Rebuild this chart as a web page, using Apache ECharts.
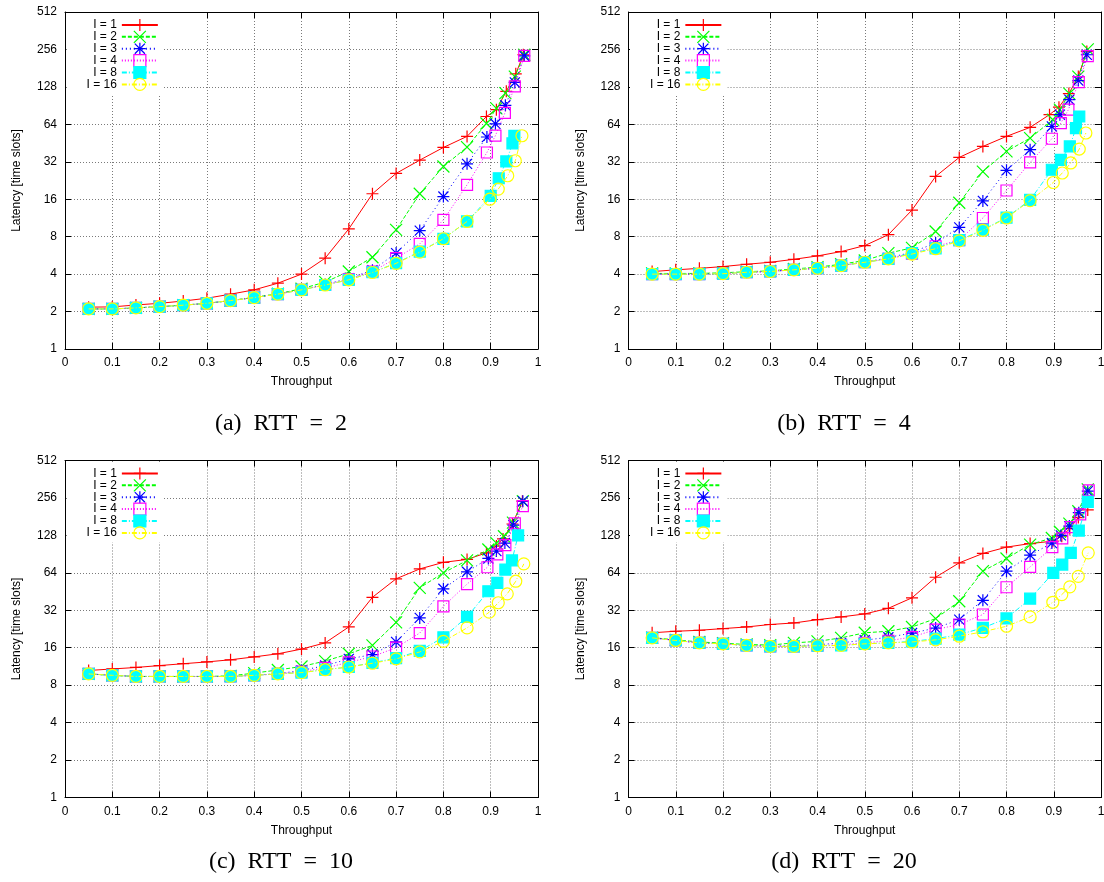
<!DOCTYPE html>
<html>
<head>
<meta charset="utf-8">
<title>Latency vs throughput</title>
<script src="https://cdn.jsdelivr.net/npm/echarts@6/dist/echarts.min.js"></script>
<style>
  html, body { margin: 0; padding: 0; background: #fff; }
  #chart { width: 1104px; height: 882px; }
</style>
</head>
<body>
<div id="chart"></div>
<script>
// throughput points shared by every curve (0.05 .. 0.85)
const xLow = [0.05, 0.1, 0.15, 0.2, 0.25, 0.3, 0.35, 0.4, 0.45, 0.5, 0.55, 0.6, 0.65, 0.7, 0.75, 0.8, 0.85];
const levels = ["I = 1", "I = 2", "I = 3", "I = 4", "I = 8", "I = 16"];
const captions = ["(a)\u2002RTT\u2002=\u20022", "(b)\u2002RTT\u2002=\u20024", "(c)\u2002RTT\u2002=\u200210", "(d)\u2002RTT\u2002=\u200220"];

// ---- RTT = 2 ----
const rtt2_i1 = [2.17, 2.18, 2.26, 2.33, 2.43, 2.56, 2.76, 2.99, 3.38, 4.0, 5.37, 9.24, 17.7, 25.8, 33, 41.7, 51.2, 74, 84, 118, 163, 232];
const rtt2_i2 = [2.1, 2.1, 2.14, 2.19, 2.25, 2.33, 2.45, 2.6, 2.78, 3.05, 3.45, 4.2, 5.47, 9.07, 17.7, 29.3, 42, 65, 86, 114, 155, 232];
const rtt2_i3 = [2.1, 2.1, 2.14, 2.19, 2.25, 2.33, 2.45, 2.59, 2.77, 3.0, 3.3, 3.7, 4.3, 5.9, 8.95, 16.8, 30.8, 50.6, 64.6, 91, 139, 227];
const rtt2_i4 = [2.1, 2.1, 2.14, 2.19, 2.25, 2.33, 2.45, 2.59, 2.76, 2.99, 3.27, 3.65, 4.2, 5.37, 7.0, 10.9, 20.9, 38, 52, 79, 129, 227];
const rtt2_i8 = [2.1, 2.1, 2.14, 2.19, 2.25, 2.33, 2.45, 2.59, 2.76, 2.99, 3.27, 3.6, 4.14, 4.9, 6.07, 7.68, 10.6, 17, 23.6, 32.2, 45, 51.6];
const rtt2_i16 = [2.1, 2.1, 2.14, 2.19, 2.25, 2.33, 2.45, 2.59, 2.76, 2.99, 3.27, 3.6, 4.12, 4.88, 6.0, 7.7, 10.6, 16, 19.3, 24.7, 32.6, 51.8];
const rtt2_tail = [
  [0.891, 0.912, 0.933, 0.953, 0.969],
  [0.891, 0.912, 0.931, 0.951, 0.971],
  [0.892, 0.910, 0.931, 0.951, 0.971],
  [0.892, 0.910, 0.930, 0.951, 0.971],
  [0.900, 0.917, 0.933, 0.946, 0.950],
  [0.898, 0.916, 0.936, 0.952, 0.966]
];

// ---- RTT = 4 ----
const rtt4_i1 = [4.19, 4.33, 4.45, 4.6, 4.8, 4.98, 5.26, 5.6, 6.07, 6.78, 8.3, 13.1, 24.4, 34.7, 42.5, 51.2, 60.5, 76.5, 88, 113, 155, 247];
const rtt4_i2 = [4.05, 4.05, 4.05, 4.1, 4.18, 4.25, 4.4, 4.55, 4.8, 5.15, 5.9, 6.5, 8.8, 15.0, 26.7, 38.8, 49.6, 69.7, 84, 113, 155, 256];
const rtt4_i3 = [4.0, 4.0, 4.0, 4.03, 4.14, 4.2, 4.33, 4.46, 4.7, 5.0, 5.4, 6.0, 7.1, 9.5, 15.5, 27.3, 40, 61.5, 76.5, 101, 144, 232];
const rtt4_i4 = [4.0, 4.0, 4.0, 4.03, 4.14, 4.2, 4.33, 4.46, 4.68, 4.98, 5.3, 5.85, 6.7, 7.5, 11.3, 18.8, 31.6, 49, 65.5, 84, 140, 226];
const rtt4_i8 = [4.0, 4.0, 4.0, 4.03, 4.14, 4.2, 4.33, 4.46, 4.68, 4.98, 5.3, 5.9, 6.45, 7.5, 9.1, 11.4, 15.8, 27.6, 33.2, 42.5, 59.7, 74];
const rtt4_i16 = [4.0, 4.0, 4.0, 4.03, 4.14, 4.2, 4.33, 4.46, 4.68, 4.98, 5.3, 5.8, 6.4, 7.4, 9.0, 11.3, 15.6, 21.8, 26, 31.3, 40.5, 54.5];
const rtt4_tail = [
  [0.891, 0.911, 0.932, 0.952, 0.970],
  [0.898, 0.913, 0.933, 0.952, 0.972],
  [0.896, 0.913, 0.933, 0.952, 0.970],
  [0.896, 0.915, 0.931, 0.953, 0.972],
  [0.896, 0.915, 0.934, 0.947, 0.954],
  [0.899, 0.918, 0.936, 0.954, 0.968]
];

// ---- RTT = 10 ----
const rtt10_i1 = [10.5, 10.8, 11.1, 11.5, 11.9, 12.3, 12.8, 13.5, 14.3, 15.6, 17.5, 23.5, 40.7, 57.3, 68.8, 77.7, 82, 92.7, 105, 120, 158, 241];
const rtt10_i2 = [9.85, 9.6, 9.4, 9.4, 9.4, 9.4, 9.5, 10.0, 10.6, 11.3, 12.5, 14.3, 16.7, 25.6, 48.5, 64, 80.5, 98.5, 111, 126, 162, 241];
const rtt10_i3 = [9.85, 9.6, 9.4, 9.4, 9.4, 9.4, 9.4, 9.6, 9.9, 10.5, 11.5, 13.0, 14.1, 17.8, 27.8, 47.6, 65.2, 83.5, 95.7, 111, 155, 241];
const rtt10_i4 = [9.85, 9.6, 9.4, 9.4, 9.4, 9.4, 9.4, 9.6, 9.85, 10.3, 11.0, 12.2, 13.6, 16, 21, 34.4, 52, 71, 90, 107, 160, 220];
const rtt10_i8 = [9.85, 9.6, 9.4, 9.4, 9.4, 9.4, 9.4, 9.6, 9.85, 10.1, 10.65, 11.2, 12.1, 13.2, 15.1, 19.4, 28.3, 45.5, 53.2, 68, 80.5, 128];
const rtt10_i16 = [9.85, 9.6, 9.4, 9.4, 9.4, 9.4, 9.4, 9.6, 9.85, 10.1, 10.65, 11.2, 12.0, 13.0, 14.8, 18, 23.1, 30.9, 36.8, 43.4, 54.8, 75.6];
const rtt10_tail = [
  [0.891, 0.912, 0.926, 0.946, 0.967],
  [0.895, 0.912, 0.928, 0.947, 0.968],
  [0.895, 0.912, 0.930, 0.948, 0.968],
  [0.893, 0.914, 0.931, 0.951, 0.968],
  [0.895, 0.914, 0.931, 0.945, 0.958],
  [0.897, 0.916, 0.935, 0.953, 0.970]
];

// ---- RTT = 20 ----
const rtt20_i1 = [21.1, 21.7, 22.1, 22.8, 23.5, 24.6, 25.3, 26.9, 28.3, 29.9, 33.2, 40.3, 59, 77, 91.6, 103, 110, 115, 126, 145, 178, 205];
const rtt20_i2 = [19.3, 18.5, 17.8, 17.4, 17.0, 16.8, 17.5, 18.0, 19.2, 21.1, 21.7, 23.5, 27.4, 37.8, 66, 83.5, 108, 122, 137, 159, 200, 300];
const rtt20_i3 = [19.2, 18.3, 17.5, 17.2, 16.7, 16.5, 16.6, 16.9, 17.5, 18.4, 19.4, 21, 23, 26.9, 38.5, 66, 88.7, 111, 128, 152, 195, 290];
const rtt20_i4 = [19.2, 18.3, 17.5, 17.2, 16.7, 16.4, 16.4, 16.6, 16.9, 17.5, 18.2, 19.5, 22.4, 24.6, 29.6, 49, 71.5, 103, 121, 149, 189, 295];
const rtt20_i8 = [19.2, 18.3, 17.5, 17.2, 16.7, 16.4, 16.4, 16.6, 16.7, 17.2, 17.5, 18, 18.9, 20.4, 23.1, 27.5, 39.7, 64, 74.6, 92.7, 140, 238];
const rtt20_i16 = [19.2, 18.3, 17.5, 17.2, 16.7, 16.4, 16.4, 16.6, 16.7, 17.2, 17.5, 17.8, 18.5, 19.8, 21.5, 23.8, 28.3, 37.1, 42.8, 49.4, 60, 92.7];
const rtt20_tail = [
  [0.898, 0.917, 0.934, 0.952, 0.972],
  [0.896, 0.913, 0.933, 0.952, 0.972],
  [0.896, 0.915, 0.933, 0.953, 0.972],
  [0.897, 0.918, 0.936, 0.956, 0.974],
  [0.899, 0.918, 0.936, 0.953, 0.972],
  [0.898, 0.917, 0.934, 0.952, 0.973]
];

const panelData = [
  { ys: [rtt2_i1, rtt2_i2, rtt2_i3, rtt2_i4, rtt2_i8, rtt2_i16], tails: rtt2_tail },
  { ys: [rtt4_i1, rtt4_i2, rtt4_i3, rtt4_i4, rtt4_i8, rtt4_i16], tails: rtt4_tail },
  { ys: [rtt10_i1, rtt10_i2, rtt10_i3, rtt10_i4, rtt10_i8, rtt10_i16], tails: rtt10_tail },
  { ys: [rtt20_i1, rtt20_i2, rtt20_i3, rtt20_i4, rtt20_i8, rtt20_i16], tails: rtt20_tail }
];

// layout of the four plots (pixels)
const boxes = [
  { left: 65, top: 12, width: 473, height: 337, capX: 281, capY: 424 },
  { left: 628.5, top: 12, width: 472.5, height: 337, capX: 844, capY: 424 },
  { left: 65, top: 460.5, width: 473, height: 337, capX: 281, capY: 862 },
  { left: 628.5, top: 460.5, width: 472.5, height: 337, capX: 844, capY: 862 }
];

// gnuplot-like line / point styles
const colors = ["#ff0000", "#00ff00", "#0000ff", "#ff00ff", "#00ffff", "#ffff00"];
const dashes = ["solid", [4, 2], [1, 3], [1, 2], [5, 2, 1, 2], [5, 2, 1, 2]];
const symbols = [
  "path://M0,5L10,5M5,0L5,10",
  "path://M0,0L10,10M10,0L0,10",
  "path://M0,5L10,5M5,0L5,10M0.8,0.8L9.2,9.2M9.2,0.8L0.8,9.2",
  "rect",
  "rect",
  "circle"
];
const fills = ["transparent", "transparent", "transparent", "transparent", "#00ffff", "transparent"];
const sizes = [12, 12, 12, 11, 11, 12];

const font = "Liberation Sans";
const grids = [], xAxes = [], yAxes = [], legends = [], series = [], texts = [];

boxes.forEach(function (b, p) {
  grids.push({ left: b.left, top: b.top, width: b.width, height: b.height, containLabel: false, outerBoundsMode: "none" });

  const frame = { show: true, onZero: false, lineStyle: { color: "#000", width: 1 } };
  const tick = { show: true, inside: true, length: 6, lineStyle: { color: "#000" } };
  const grid = { show: true, lineStyle: { color: "#7a7a7a", width: 1, type: [1, 2] } };

  xAxes.push({
    gridIndex: p, type: "value", min: 0, max: 1, interval: 0.1,
    name: "Throughput", nameLocation: "middle", nameGap: 27,
    nameTextStyle: { fontFamily: font, fontSize: 12, color: "#000" },
    axisLine: frame, axisTick: tick, splitLine: grid,
    axisLabel: { margin: 8, fontFamily: font, fontSize: 12, color: "#000" }
  });
  xAxes.push({
    gridIndex: p, type: "value", position: "top", min: 0, max: 1, interval: 0.1,
    axisLine: frame, axisTick: tick, axisLabel: { show: false }, splitLine: { show: false }
  });
  yAxes.push({
    gridIndex: p, type: "log", logBase: 2, min: 1, max: 512,
    name: "Latency [time slots]", nameLocation: "middle", nameGap: 42,
    nameTextStyle: { fontFamily: font, fontSize: 12, color: "#000" },
    axisLine: frame, axisTick: tick, splitLine: grid,
    axisLabel: { margin: 8, fontFamily: font, fontSize: 12, color: "#000" }
  });
  yAxes.push({
    gridIndex: p, type: "log", logBase: 2, min: 1, max: 512, position: "right",
    axisLine: frame, axisTick: tick, axisLabel: { show: false }, splitLine: { show: false }
  });

  legends.push({
    data: levels, orient: "vertical", align: "right",
    left: b.left + 1.5, top: b.top + 1,
    itemWidth: 36, itemHeight: 15, itemGap: -1.3,
    padding: [5.3, 5, 3, 20], backgroundColor: "#fff",
    selectedMode: false,
    itemStyle: { borderWidth: 1.2 },
    textStyle: { fontFamily: font, fontSize: 12, lineHeight: 12, color: "#000" }
  });

  const d = panelData[p];
  levels.forEach(function (name, k) {
    const xs = xLow.concat(d.tails[k]);
    series.push({
      name: name, type: "line",
      xAxisIndex: p * 2, yAxisIndex: p * 2,
      data: xs.map(function (x, i) { return [x, d.ys[k][i]]; }),
      symbol: symbols[k], symbolSize: sizes[k], showAllSymbol: true,
      lineStyle: { color: colors[k], width: 1, type: dashes[k] },
      itemStyle: { color: fills[k], borderColor: colors[k], borderWidth: 1.2 },
      emphasis: { disabled: true },
      z: 2 + k
    });
  });

  texts.push({
    type: "text", x: b.capX, y: b.capY,
    style: { text: captions[p], font: '24px "Liberation Serif"', fill: "#000", align: "center", verticalAlign: "middle" }
  });
});

const chart = echarts.init(document.getElementById("chart"));
chart.setOption({
  animation: false,
  backgroundColor: "#fff",
  grid: grids,
  xAxis: xAxes,
  yAxis: yAxes,
  legend: legends,
  series: series,
  graphic: texts
});
window.addEventListener("resize", function () {
  chart.resize();
});
</script>
</body>
</html>
